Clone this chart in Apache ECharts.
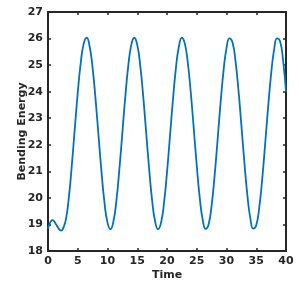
<!DOCTYPE html>
<html>
<head>
<meta charset="utf-8">
<script src="https://cdn.jsdelivr.net/npm/echarts@6/dist/echarts.min.js"></script>
<style>html,body{margin:0;padding:0;background:#fff;}#c{width:299px;height:300px;}</style>
</head>
<body>
<div id="c"></div>
<script>
var timeValues = [0, 0.25, 0.5, 0.75, 1.0, 1.5, 2.0, 2.25, 2.5, 3.0, 3.5, 4.0, 4.5, 5.0, 5.5, 6.0, 6.5, 7.0, 7.5, 8.0, 8.5, 9.0, 9.5, 10.0, 10.5, 11.0, 11.5, 12.0, 12.5, 13.0, 13.5, 14.0, 14.5, 15.0, 15.5, 16.0, 16.5, 17.0, 17.5, 18.0, 18.5, 19.0, 19.5, 20.0, 20.5, 21.0, 21.5, 22.0, 22.5, 23.0, 23.5, 24.0, 24.5, 25.0, 25.5, 26.0, 26.5, 27.0, 27.5, 28.0, 28.5, 29.0, 29.5, 30.0, 30.5, 31.0, 31.5, 32.0, 32.5, 33.0, 33.5, 34.0, 34.5, 35.0, 35.5, 36.0, 36.5, 37.0, 37.5, 38.0, 38.5, 39.0, 39.5, 40.0];
var energyValues = [18.85, 19.00, 19.12, 19.16, 19.13, 18.95, 18.79, 18.77, 18.83, 19.18, 20.01, 21.22, 22.60, 23.96, 25.08, 25.81, 26.03, 25.70, 24.89, 23.70, 22.32, 20.96, 19.81, 19.07, 18.82, 19.12, 19.91, 21.09, 22.46, 23.83, 24.99, 25.76, 26.03, 25.76, 24.99, 23.83, 22.46, 21.09, 19.91, 19.12, 18.82, 19.07, 19.81, 20.96, 22.32, 23.70, 24.89, 25.70, 26.03, 25.81, 25.08, 23.96, 22.60, 21.22, 20.01, 19.18, 18.83, 19.01, 19.72, 20.83, 22.18, 23.57, 24.78, 25.64, 26.01, 25.86, 25.18, 24.08, 22.74, 21.35, 20.12, 19.24, 18.84, 18.97, 19.63, 20.70, 22.04, 23.43, 24.67, 25.58, 26.01, 25.90, 25.20, 24.00];
var xTicks = [0, 5, 10, 15, 20, 25, 30, 35, 40];
var yTicks = [18, 19, 20, 21, 22, 23, 24, 25, 26, 27];
var xLabel = 'Time';
var yLabel = 'Bending Energy';

var points = timeValues.map(function (t, i) { return [t, energyValues[i]]; });
var font = 'DejaVu Sans';
var axisColor = '#262626';
function axisBase(extra) {
  var a = {
    axisLine: { show: true, onZero: false, lineStyle: { color: axisColor, width: 2 } },
    axisTick: { show: true, inside: true, length: 3, lineStyle: { color: axisColor, width: 1.5 } },
    splitLine: { show: false }
  };
  for (var k in extra) a[k] = extra[k];
  return a;
}
var chart = echarts.init(document.getElementById('c'), null, { renderer: 'canvas' });
chart.setOption({
  animation: false,
  backgroundColor: '#fff',
  grid: { left: 48, right: 13, top: 12, bottom: 49 },
  xAxis: [
    axisBase({ type: 'value', position: 'bottom', min: xTicks[0], max: xTicks[xTicks.length - 1], interval: 5,
      name: xLabel, nameLocation: 'middle', nameGap: 19, nameMoveOverlap: false,
      nameTextStyle: { fontFamily: font, fontWeight: 'bold', fontSize: 11, color: axisColor },
      axisLabel: { margin: 5, fontFamily: font, fontWeight: 'bold', fontSize: 11, color: axisColor } }),
    axisBase({ type: 'value', position: 'top', min: xTicks[0], max: xTicks[xTicks.length - 1], interval: 5,
      axisLabel: { show: false } })
  ],
  yAxis: [
    axisBase({ type: 'value', position: 'left', min: yTicks[0], max: yTicks[yTicks.length - 1], interval: 1,
      name: yLabel, nameLocation: 'middle', nameGap: 20, nameRotate: 90, nameMoveOverlap: false,
      nameTextStyle: { fontFamily: font, fontWeight: 'bold', fontSize: 11, color: axisColor },
      axisLabel: { margin: 5, fontFamily: font, fontWeight: 'bold', fontSize: 11, color: axisColor } }),
    axisBase({ type: 'value', position: 'right', min: yTicks[0], max: yTicks[yTicks.length - 1], interval: 1,
      axisLabel: { show: false } })
  ],
  series: [{
    type: 'line',
    data: points,
    xAxisIndex: 0,
    yAxisIndex: 0,
    smooth: 0.5,
    showSymbol: false,
    lineStyle: { color: '#0072BD', width: 1.8 },
    clip: true
  }]
});
</script>
</body>
</html>
